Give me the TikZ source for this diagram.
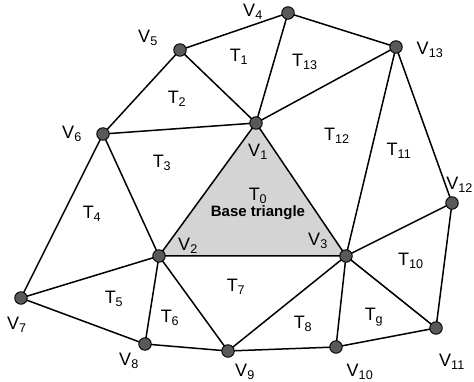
\documentclass[tikz,border=0pt]{standalone}
\usepackage{fontspec}
\setmainfont{Liberation Sans}
\tikzset{
  vtx/.style={circle,draw=black,line width=0.9pt,fill=black!65,minimum size=12.5pt,inner sep=0pt},
  edge/.style={line width=1.5pt},
  lbl/.style={font=\fontsize{18}{20}\selectfont,inner sep=0pt},
  base/.style={font=\bfseries\fontsize{15}{17}\selectfont,inner sep=0pt}
}
\newcommand\lsub[2]{#1\textsubscript{#2}}
\begin{document}
\begin{tikzpicture}[x=1pt,y=-1pt]
\useasboundingbox (0,0) rectangle (474,382);
% coordinates of vertices
\coordinate (p1) at (256,123);
\coordinate (p2) at (159,256);
\coordinate (p3) at (346,256);
\coordinate (p4) at (288,13);
\coordinate (p5) at (180,50);
\coordinate (p6) at (103,134);
\coordinate (p7) at (21,298);
\coordinate (p8) at (145,344);
\coordinate (p9) at (228,351);
\coordinate (p10) at (336,347);
\coordinate (p11) at (436,328);
\coordinate (p12) at (452,203);
\coordinate (p13) at (396,47);
% base triangle
\fill[black!17] (p1) -- (p2) -- (p3) -- cycle;
% edges
\draw[edge] (p4) -- (p5);
\draw[edge] (p4) -- (p13);
\draw[edge] (p5) -- (p1);
\draw[edge] (p4) -- (p1);
\draw[edge] (p5) -- (p6);
\draw[edge] (p6) -- (p1);
\draw[edge] (p1) -- (p13);
\draw[edge] (p6) -- (p2);
\draw[edge] (p6) -- (p7);
\draw[edge] (p7) -- (p2);
\draw[edge] (p7) -- (p8);
\draw[edge] (p8) -- (p2);
\draw[edge] (p8) -- (p9);
\draw[edge] (p2) -- (p9);
\draw[edge] (p9) -- (p3);
\draw[edge] (p9) -- (p10);
\draw[edge] (p10) -- (p3);
\draw[edge] (p10) -- (p11);
\draw[edge] (p11) -- (p3);
\draw[edge] (p11) -- (p12);
\draw[edge] (p12) -- (p3);
\draw[edge] (p12) -- (p13);
\draw[edge] (p13) -- (p3);
\draw[edge] (p1) -- (p2) -- (p3) -- cycle;
% vertex nodes
\foreach \i in {1,...,13} { \node[vtx] (v\i) at (p\i) {}; }
% vertex labels
\node[lbl] (l1) at (258,152) {\lsub{V}{1}};
\node[lbl] (l2) at (188,246) {\lsub{V}{2}};
\node[lbl] (l3) at (318,241) {\lsub{V}{3}};
\node[lbl] (l4) at (253,12) {\lsub{V}{4}};
\node[lbl] (l5) at (148,38) {\lsub{V}{5}};
\node[lbl] (l6) at (72,134) {\lsub{V}{6}};
\node[lbl] (l7) at (17,325) {\lsub{V}{7}};
\node[lbl] (l8) at (129,361) {\lsub{V}{8}};
\node[lbl] (l9) at (245,372) {\lsub{V}{9}};
\node[lbl] (l10) at (360,372) {\lsub{V}{10}};
\node[lbl] (l11) at (452,362) {\lsub{V}{11}};
\node[lbl,anchor=east] (l12) at (473,185) {\lsub{V}{12}};
\node[lbl] (l13) at (430,50) {\lsub{V}{13}};
% triangle labels
\node[lbl] (t0) at (258,196) {\lsub{T}{0}};
\node[base] (bt) at (258,213) {Base triangle};
\node[lbl] (t1) at (239,57) {\lsub{T}{1}};
\node[lbl] (t2) at (177,99) {\lsub{T}{2}};
\node[lbl] (t3) at (162,163) {\lsub{T}{3}};
\node[lbl] (t4) at (92,214) {\lsub{T}{4}};
\node[lbl] (t5) at (114,299) {\lsub{T}{5}};
\node[lbl] (t6) at (170,318) {\lsub{T}{6}};
\node[lbl] (t7) at (236,287) {\lsub{T}{7}};
\node[lbl] (t8) at (303,324) {\lsub{T}{8}};
\node[lbl] (t9) at (374,317) {\lsub{T}{g}};
\node[lbl] (t10) at (411,261) {\lsub{T}{10}};
\node[lbl] (t11) at (399,151) {\lsub{T}{11}};
\node[lbl] (t12) at (337,136) {\lsub{T}{12}};
\node[lbl] (t13) at (305,62) {\lsub{T}{13}};
\end{tikzpicture}
\end{document}
